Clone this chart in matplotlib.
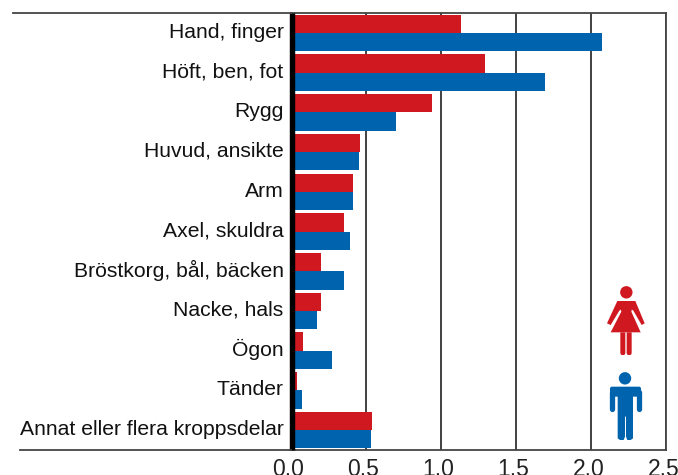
import matplotlib
matplotlib.use('Agg')
import matplotlib.pyplot as plt
from matplotlib.patches import Circle, Polygon, FancyBboxPatch
from matplotlib.transforms import ScaledTranslation
import numpy as np

# Data
categories = ['Hand, finger', 'Höft, ben, fot', 'Rygg', 'Huvud, ansikte', 'Arm',
              'Axel, skuldra', 'Bröstkorg, bål, bäcken', 'Nacke, hals', 'Ögon',
              'Tänder', 'Annat eller flera kroppsdelar']
women = [1.13, 1.29, 0.94, 0.46, 0.41, 0.35, 0.20, 0.20, 0.08, 0.04, 0.54]
men = [2.07, 1.69, 0.70, 0.45, 0.41, 0.39, 0.35, 0.17, 0.27, 0.07, 0.53]
xticks = [0.0, 0.5, 1.0, 1.5, 2.0, 2.5]
xticklabels = ['0.0', '0.5', '1.0', '1.5', '2.0', '2.5']

RED = '#cf1820'
BLUE = '#0063ae'
W, H = 678, 475

plt.rcParams['font.family'] = ['Liberation Sans', 'DejaVu Sans']

fig = plt.figure(figsize=(W/100, H/100), dpi=100)
ax = fig.add_axes([291/W, 1-450/H, 375/W, 437/H])

# bars, first group on top
y = np.arange(len(categories))
ax.barh(y-0.23, women, height=0.46, color=RED, zorder=3)
ax.barh(y+0.23, men, height=0.46, color=BLUE, zorder=3)
ax.set_ylim(10.5, -0.504)
ax.set_xlim(0, 2.5)

ax.set_xticks(xticks)
ax.set_xticklabels(xticklabels)
# ticks are invisible, nudged so the labels sit a bit above the group centre
ax.set_yticks(y-0.07)
ax.set_yticklabels(categories)
ax.tick_params(axis='x', length=0, pad=5.5, labelsize=16.5, labelcolor='#222222')
ax.tick_params(axis='y', length=0, pad=6, labelsize=15.2, labelcolor='#111111')
ax.grid(axis='x', color='#333333', lw=1.3, zorder=1)

# x labels sit a little left of their gridlines in the original
for t in ax.get_xticklabels():
    t.set_transform(t.get_transform() + ScaledTranslation(-2.5/100, 0, fig.dpi_scale_trans))

for s in ['top', 'bottom', 'right']:
    ax.spines[s].set_color('#444444')
    ax.spines[s].set_linewidth(1.3)
ax.spines['left'].set_color('black')
ax.spines['left'].set_linewidth(3.9)
ax.spines['left'].set_capstyle('butt')
ax.spines['left'].set_position(('outward', -0.7))
ax.spines['left'].set_zorder(5)

# overlay in pixel coords for the rules running left and the icons
ov = fig.add_axes([0, 0, 1, 1], facecolor='none')
ov.set_xlim(0, W)
ov.set_ylim(H, 0)
ov.axis('off')
ov.plot([13, 291], [13, 13], color='#444444', lw=1.3)
ov.plot([20, 291], [450, 450], color='#444444', lw=1.3)

def zx(v):
    return 560 + v/3

def zy(v):
    return 270 + v/3

def poly(pts, color):
    ov.add_patch(Polygon([(zx(a), zy(b)) for a, b in pts], closed=True, fc=color, ec='none'))

def limb(p0, p1, color, lw):
    ov.plot([zx(p0[0]), zx(p1[0])], [zy(p0[1]), zy(p1[1])], color=color, lw=lw,
            solid_capstyle='round')

# woman
ov.add_patch(Circle((zx(199), zy(67)), 6.2, fc=RED, ec='none'))
poly([(176, 93), (222, 93), (214, 125), (242, 187), (152, 187), (184, 125)], RED)
poly([(172, 93), (192, 93), (192, 112), (178, 122), (152, 165), (141, 160)], RED)
poly([(226, 93), (206, 93), (206, 112), (220, 122), (245, 165), (254, 160)], RED)
poly([(181, 187), (196, 187), (196, 250), (193, 255), (184, 255), (181, 250)], RED)
poly([(200, 187), (215, 187), (215, 250), (212, 255), (203, 255), (200, 250)], RED)

# man
ov.add_patch(Circle((zx(195), zy(325)), 6.2, fc=BLUE, ec='none'))
ov.add_patch(FancyBboxPatch((zx(150), zy(350)), 31, 10, boxstyle='round,pad=0,rounding_size=2',
                            fc=BLUE, ec='none'))
poly([(173, 351), (219, 351), (219, 440), (219, 505), (212, 510), (202, 510), (198, 500),
      (198, 440), (195, 440), (195, 500), (191, 510), (180, 510), (173, 505)], BLUE)
limb((157, 365), (157, 418), BLUE, 3.8)
limb((236, 365), (236, 418), BLUE, 3.8)

fig.savefig('out.png', dpi=100)
